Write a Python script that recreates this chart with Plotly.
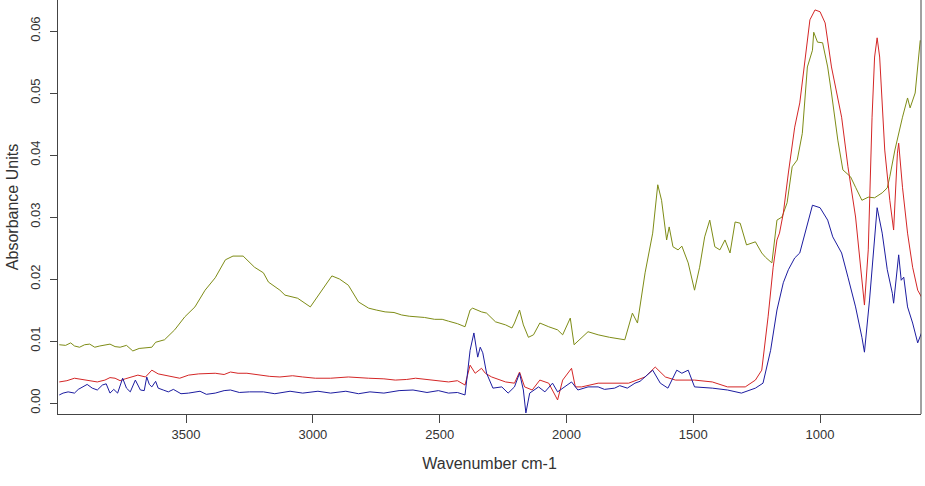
import plotly.graph_objects as go

# ---- data ----
green_wn = [4000, 3975, 3955, 3940, 3920, 3900, 3880, 3860, 3840, 3820, 3800, 3780, 3760, 3735, 3710,
            3685, 3660, 3635, 3620, 3585, 3545, 3505, 3465,
            3425, 3385, 3345, 3315, 3275, 3230, 3195, 3175, 3130, 3110, 3060, 3010, 2970, 2925, 2895,
            2860, 2820, 2780, 2750, 2715, 2680, 2650, 2620, 2595, 2560, 2520, 2490, 2465, 2430, 2400,
            2380, 2370, 2335, 2315, 2280, 2240,
            2215, 2205, 2185, 2170, 2150, 2130, 2105, 2070, 2035, 2015, 1985, 1970, 1940, 1915, 1875,
            1830, 1770, 1740, 1720, 1690, 1660, 1640, 1625, 1605, 1595, 1580, 1560, 1545, 1520, 1495,
            1475, 1455, 1435, 1415, 1395, 1375, 1355, 1335, 1315, 1290, 1255, 1230, 1215, 1190, 1170,
            1150, 1130, 1110, 1090, 1070, 1050, 1030, 1025, 1010, 990, 970, 955, 930, 910, 880,
            860, 835, 810, 785, 755, 735, 725, 705, 675, 655, 645, 625, 605]
green_abs = [0.0094, 0.0093, 0.0097, 0.0092, 0.0090, 0.0094, 0.0095, 0.0090, 0.0092, 0.0094, 0.0095, 0.0091, 0.0090, 0.0093, 0.0084,
             0.0088, 0.0089, 0.0090, 0.0098, 0.0102, 0.0118, 0.0139, 0.0155,
             0.0182, 0.0202, 0.0231, 0.0237, 0.0237, 0.0219, 0.0210, 0.0195, 0.0182, 0.0174, 0.0169, 0.0155, 0.0179, 0.0205, 0.0200,
             0.0190, 0.0163, 0.0153, 0.0150, 0.0147, 0.0146, 0.0142, 0.0140, 0.0139, 0.0138, 0.0135, 0.0135, 0.0132, 0.0128, 0.0123,
             0.0150, 0.0153, 0.0147, 0.0145, 0.0131, 0.0126,
             0.0121, 0.0129, 0.0150, 0.0126, 0.0106, 0.0110, 0.0129, 0.0123, 0.0118, 0.0110, 0.0137, 0.0094, 0.0106, 0.0115, 0.0110,
             0.0106, 0.0102, 0.0145, 0.0129, 0.0210, 0.0274, 0.0352, 0.0327, 0.0263, 0.0284, 0.0252, 0.0247, 0.0253, 0.0226, 0.0182,
             0.0219, 0.0268, 0.0295, 0.0252, 0.0247, 0.0263, 0.0242, 0.0292, 0.0290, 0.0255, 0.0260, 0.0242, 0.0235, 0.0226, 0.0295,
             0.0300, 0.0323, 0.0381, 0.0392, 0.0435, 0.0542, 0.0569, 0.0598, 0.0582, 0.0581, 0.0542, 0.0500, 0.0424, 0.0376, 0.0365,
             0.0348, 0.0327, 0.0332, 0.0331, 0.0339, 0.0347, 0.0365, 0.0408, 0.0461, 0.0492, 0.0476, 0.0500, 0.0585]

red_wn = [4000, 3970, 3940, 3910, 3880, 3850, 3820, 3800, 3780, 3760, 3740, 3715, 3690, 3660, 3635,
          3610, 3585, 3555, 3525, 3490, 3450, 3385, 3350, 3325, 3295, 3260, 3210, 3170, 3130, 3080,
          3040, 2990, 2930, 2860, 2780, 2720, 2675, 2630, 2595, 2540, 2500, 2465, 2430, 2400,
          2380, 2360, 2335, 2320, 2295, 2240,
          2205, 2185, 2165, 2135, 2105, 2070, 2035, 2015, 1980, 1965, 1940, 1900, 1875, 1755, 1690,
          1650, 1610, 1570, 1495, 1425, 1365, 1295, 1255, 1230, 1205, 1185, 1170, 1160, 1145, 1125,
          1100, 1080, 1060, 1040, 1020, 1000, 980, 955, 915, 890, 860, 840, 825, 810, 795,
          785, 775, 765, 745, 725, 710, 695, 690, 675, 655, 635, 615, 600]
red_abs = [0.0034, 0.0036, 0.0040, 0.0038, 0.0035, 0.0034, 0.0037, 0.0041, 0.0040, 0.0036, 0.0039, 0.0042, 0.0045, 0.0042, 0.0053,
           0.0047, 0.0045, 0.0043, 0.0040, 0.0045, 0.0047, 0.0048, 0.0046, 0.0050, 0.0048, 0.0048, 0.0045, 0.0043, 0.0042, 0.0044,
           0.0042, 0.0040, 0.0040, 0.0042, 0.0040, 0.0039, 0.0037, 0.0038, 0.0040, 0.0037, 0.0035, 0.0034, 0.0036, 0.0029,
           0.0061, 0.0048, 0.0056, 0.0048, 0.0042, 0.0034,
           0.0032, 0.0050, 0.0026, 0.0021, 0.0037, 0.0032, 0.0005, 0.0037, 0.0056, 0.0026, 0.0026, 0.0029, 0.0032, 0.0032, 0.0042,
           0.0058, 0.0042, 0.0037, 0.0037, 0.0034, 0.0026, 0.0026, 0.0037, 0.0053, 0.0139, 0.0219, 0.0263, 0.0274, 0.0306, 0.0371,
           0.0445, 0.0484, 0.0548, 0.0618, 0.0634, 0.0631, 0.0613, 0.0542, 0.0461, 0.0381, 0.0300, 0.0219, 0.0158, 0.0247, 0.0461,
           0.0558, 0.0589, 0.0558, 0.0408, 0.0327, 0.0279, 0.0403, 0.0419, 0.0348, 0.0274, 0.0219, 0.0182, 0.0171]

blue_wn = [4000, 3985, 3965, 3940, 3925, 3910, 3890, 3870, 3850, 3830, 3815, 3800, 3785, 3770, 3760,
           3750, 3735, 3720, 3700, 3690, 3680, 3665, 3655, 3645, 3635, 3620, 3610, 3590, 3570, 3550,
           3520, 3490, 3445, 3420, 3385, 3350, 3325, 3290, 3250, 3195, 3150, 3090, 3040, 2980, 2930,
           2870, 2820, 2775, 2720, 2660, 2605, 2550, 2505, 2465, 2430, 2400, 2380,
           2365, 2350, 2340, 2330, 2315, 2290, 2255, 2230, 2205, 2185, 2170, 2160, 2145, 2110, 2085,
           2055, 2035, 2005, 1980, 1955, 1915, 1875, 1850, 1810, 1790, 1760, 1730, 1710, 1690, 1660,
           1630, 1600, 1565, 1545,
           1520, 1495, 1425, 1365, 1310, 1255, 1225, 1195, 1170, 1160, 1145, 1125, 1100, 1080, 1060,
           1040, 1030, 1000, 970, 950, 915, 890, 860, 835, 825, 805, 785, 775, 755, 735,
           715, 710, 690, 680, 670, 655, 635, 615, 600]
blue_abs = [0.0013, 0.0016, 0.0018, 0.0016, 0.0022, 0.0026, 0.0030, 0.0024, 0.0021, 0.0029, 0.0031, 0.0016, 0.0022, 0.0016, 0.0028,
            0.0040, 0.0024, 0.0018, 0.0037, 0.0030, 0.0021, 0.0020, 0.0042, 0.0030, 0.0026, 0.0035, 0.0024, 0.0021, 0.0018, 0.0022,
            0.0015, 0.0016, 0.0019, 0.0014, 0.0016, 0.0020, 0.0021, 0.0017, 0.0018, 0.0018, 0.0015, 0.0019, 0.0016, 0.0019, 0.0016,
            0.0019, 0.0015, 0.0018, 0.0016, 0.0020, 0.0021, 0.0017, 0.0020, 0.0016, 0.0017, 0.0013, 0.0085,
            0.0113, 0.0074, 0.0090, 0.0081, 0.0048, 0.0024, 0.0026, 0.0016, 0.0026, 0.0048, 0.0021, -0.0016, 0.0016, 0.0026, 0.0018,
            0.0032, 0.0018, 0.0026, 0.0034, 0.0021, 0.0026, 0.0026, 0.0022, 0.0024, 0.0028, 0.0024, 0.0032, 0.0035, 0.0042, 0.0053,
            0.0032, 0.0024, 0.0053, 0.0048,
            0.0053, 0.0026, 0.0024, 0.0021, 0.0016, 0.0024, 0.0032, 0.0085, 0.0150, 0.0166, 0.0194, 0.0215, 0.0234, 0.0242, 0.0274,
            0.0306, 0.0319, 0.0315, 0.0295, 0.0268, 0.0242, 0.0203, 0.0155, 0.0106, 0.0082, 0.0166, 0.0274, 0.0315, 0.0274, 0.0215,
            0.0177, 0.0161, 0.0239, 0.0198, 0.0203, 0.0155, 0.0129, 0.0097, 0.0113]

x_ticks = [3500, 3000, 2500, 2000, 1500, 1000]
y_ticks = [0.00, 0.01, 0.02, 0.03, 0.04, 0.05, 0.06]
y_tick_labels = ["0.00", "0.01", "0.02", "0.03", "0.04", "0.05", "0.06"]

GREEN = "#7e8c16"
RED = "#d42626"
BLUE = "#1c1ca0"
AXIS = "#444444"
FONT = "Liberation Sans, Arial, sans-serif"

fig = go.Figure()
for wn, ab, col in [(green_wn, green_abs, GREEN), (red_wn, red_abs, RED), (blue_wn, blue_abs, BLUE)]:
    fig.add_trace(go.Scatter(x=wn, y=ab, mode="lines", line=dict(color=col, width=1), showlegend=False,
                             hoverinfo="skip"))

fig.update_layout(
    width=925, height=486,
    margin=dict(l=58, r=4, t=0, b=72),
    paper_bgcolor="white", plot_bgcolor="white",
    font=dict(family=FONT, size=13, color="#333333"),
    xaxis=dict(range=[4005, 602], tickvals=x_ticks, ticks="outside", ticklen=8, tickwidth=1,
               tickcolor=AXIS, showline=True, linecolor=AXIS, linewidth=1, showgrid=False,
               zeroline=False, tickfont=dict(size=13),
               title=dict(text="Wavenumber cm-1", font=dict(size=16), standoff=17)),
    yaxis=dict(range=[-0.00177, 0.065], tickvals=y_ticks, ticktext=y_tick_labels, ticks="outside",
               ticklen=7, tickwidth=1, tickcolor=AXIS, showline=True, linecolor=AXIS, linewidth=1,
               showgrid=False, zeroline=False, tickangle=-90, tickfont=dict(size=13),
               ticklabelstandoff=5,
               title=dict(text="Absorbance Units", font=dict(size=16), standoff=5)),
    shapes=[dict(type="line", xref="paper", yref="paper", x0=1, x1=1, y0=0, y1=1,
                 line=dict(color=AXIS, width=1))],
)

fig.write_html("out.html")
